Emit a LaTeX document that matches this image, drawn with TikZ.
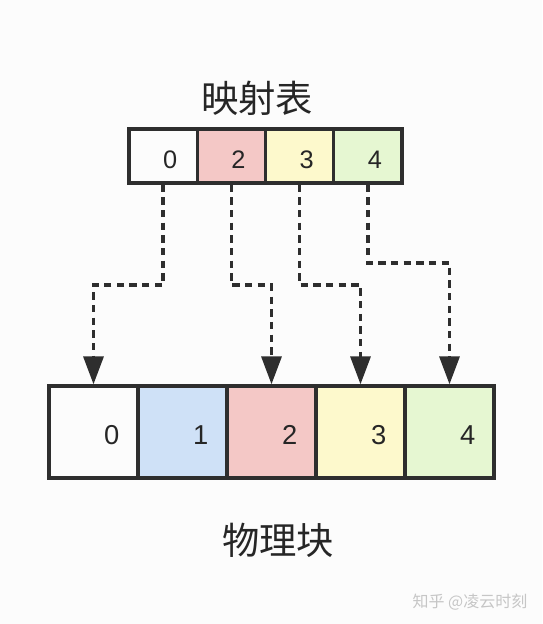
\documentclass[tikz,border=0pt]{standalone}
\usepackage{fontspec}
\setmainfont{Liberation Sans}
\newfontfamily\cjk{Noto Sans CJK SC}
\usetikzlibrary{arrows.meta}

\definecolor{edgegray}{HTML}{2E2E2E}
\definecolor{cellred}{HTML}{F4C8C6}
\definecolor{cellyellow}{HTML}{FDF9CC}
\definecolor{cellgreen}{HTML}{E6F7D2}
\definecolor{cellblue}{HTML}{CFE1F7}
\definecolor{wmgray}{HTML}{C6C6C6}

\tikzset{
  mapcell/.style={draw=edgegray, line width=2.5pt, minimum width=51.2pt,
    minimum height=40.5pt, inner xsep=15pt, text width=21.2pt, align=right,
    text height=19pt, inner ysep=0pt,
    text=black!85, font=\fontsize{19}{19}\selectfont},
  blockcell/.style={draw=edgegray, line width=2.5pt, minimum width=66.75pt,
    minimum height=69pt, inner xsep=14pt, text width=38.75pt, align=right,
    text height=18.5pt, inner ysep=0pt,
    text=black!85, font=\fontsize{20.5}{20.5}\selectfont},
  link/.style={draw=edgegray, line width=2.5pt, dash pattern=on 5.5pt off 4pt,
    -{Triangle[width=15pt,length=21pt]}},
  title/.style={text=black!85, font=\cjk\fontsize{28}{28}\selectfont}
}

\begin{document}
\begin{tikzpicture}[x=0.75pt, y=-0.75pt]
    \fill [white!99!black] (0, 0) rectangle (542, 624);
    \useasboundingbox (0, 0) rectangle (542, 624);

    \node [title] (maptitle) at (257, 98) {映射表};

    \node [mapcell] (m0) at (163.1, 156) {0};
    \node [mapcell, fill=cellred] (m2) at (231.4, 156) {2};
    \node [mapcell, fill=cellyellow] (m3) at (299.6, 156) {3};
    \node [mapcell, fill=cellgreen] (m4) at (367.9, 156) {4};

    \node [blockcell] (b0) at (93.5, 432) {0};
    \node [blockcell, fill=cellblue] (b1) at (182.5, 432) {1};
    \node [blockcell, fill=cellred] (b2) at (271.5, 432) {2};
    \node [blockcell, fill=cellyellow] (b3) at (360.5, 432) {3};
    \node [blockcell, fill=cellgreen] (b4) at (449.5, 432) {4};

    \coordinate (turn) at (0, 285);
    \coordinate (turnhigh) at (0, 263);
    \foreach \i in {0, 2, 3} {
      \draw [link] (m\i.south) -- (m\i.south |- turn) -| (b\i.north);
    }
    \draw [link] (m4.south) -- (m4.south |- turnhigh) -| (b4.north);

    \node [title] (blocktitle) at (278, 540) {物理块};

    \node [text=wmgray, font=\cjk\fontsize{12}{12}\selectfont] (credit) at (470, 602) {知乎 @凌云时刻};
  \end{tikzpicture}
\end{document}
